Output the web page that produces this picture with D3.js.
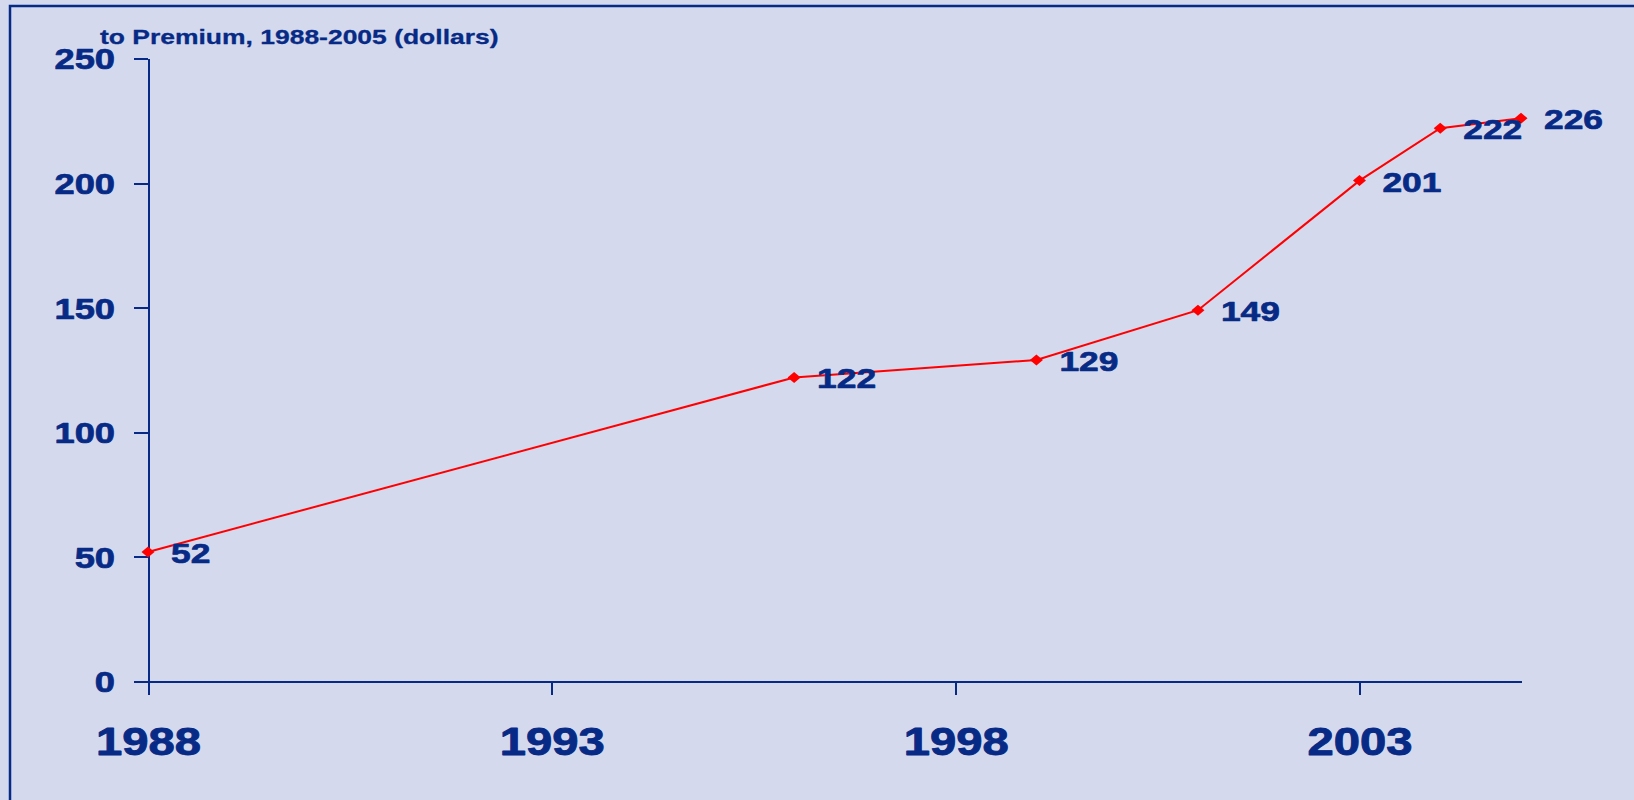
<!DOCTYPE html>
<html>
<head>
<meta charset="utf-8">
<script src="https://cdn.jsdelivr.net/npm/d3@7"></script>
<style>
  html, body { margin: 0; padding: 0; background: #d4d9ed; }
  svg { display: block; }
  text { font-family: "Liberation Sans", Arial, sans-serif; font-weight: bold; fill: #062a85; stroke: #062a85; stroke-linejoin: round; }
</style>
</head>
<body>
<script>
// ---- data ----
const titleText = "to Premium, 1988-2005 (dollars)";
const years = [1988, 1996, 1999, 2001, 2003, 2004, 2005];
const values = [52, 122, 129, 149, 201, 222, 226];
const xTickValues = [1988, 1993, 1998, 2003];
const yTickValues = [0, 50, 100, 150, 200, 250];

const W = 1634, H = 800;
const navy = "#062a85";

const svg = d3.select("body").append("svg").attr("width", W).attr("height", H);
svg.append("rect").attr("width", W).attr("height", H).attr("fill", "#d4d9ed");
// frame (extends past right / bottom edge)
svg.append("rect").attr("x", 10).attr("y", 6).attr("width", W + 20).attr("height", H + 20)
  .attr("fill", "none").attr("stroke", navy).attr("stroke-width", 2.5);

const x = d3.scaleLinear().domain([1988, 2005]).range([148, 1521]);
const y = d3.scaleLinear().domain([0, 250]).range([681.5, 58.5]);

function stretch(sel, k) {
  sel.each(function () {
    const w = this.getComputedTextLength();
    d3.select(this).attr("textLength", w * k).attr("lengthAdjust", "spacingAndGlyphs");
  });
}

// title
svg.append("text").attr("x", 100).attr("y", 44).attr("font-size", 21)
  .attr("stroke-width", 0.3).text(titleText)
  .call(stretch, 1.26);

// y axis
const gy = svg.append("g").attr("transform", `translate(${x(1988)},0)`)
  .call(d3.axisLeft(y).tickValues(yTickValues).tickSize(14).tickSizeOuter(0).tickFormat(d3.format("d")));
gy.select(".domain").attr("stroke", navy).attr("stroke-width", 2);
gy.selectAll(".tick line").attr("stroke", navy).attr("stroke-width", 2);
gy.selectAll(".tick text").attr("x", -33).attr("dy", "0.36em")
  .attr("font-size", 29).attr("fill", navy).attr("stroke", navy).attr("stroke-width", 0.7)
  .attr("font-family", null)
  .call(stretch, 1.25);

// x axis
const gx = svg.append("g").attr("transform", `translate(0,${y(0)})`)
  .call(d3.axisBottom(x).tickValues(xTickValues).tickSize(13).tickSizeOuter(0).tickFormat(d3.format("d")));
gx.select(".domain").attr("stroke", navy).attr("stroke-width", 2);
gx.selectAll(".tick line").attr("stroke", navy).attr("stroke-width", 2);
gx.selectAll(".tick text").attr("y", 73.5).attr("dy", 0)
  .attr("font-size", 39).attr("fill", navy).attr("stroke", navy).attr("stroke-width", 0.9)
  .attr("font-family", null)
  .call(stretch, 1.21);
svg.selectAll(".domain, .tick line").attr("shape-rendering", "crispEdges");

// line
const pts = years.map((yr, i) => ({ yr, v: values[i] }));
svg.append("path").datum(pts)
  .attr("fill", "none").attr("stroke", "#ff0000").attr("stroke-width", 2)
  .attr("d", d3.line().x(d => x(d.yr)).y(d => y(d.v)));

// markers
svg.selectAll("path.mk").data(pts).join("path").attr("class", "mk")
  .attr("d", "M0,-5.5L6.5,0L0,5.5L-6.5,0Z")
  .attr("fill", "#ff0000")
  .attr("transform", d => `translate(${x(d.yr)},${y(d.v)})`);

// data labels
svg.selectAll("text.lbl").data(pts).join("text").attr("class", "lbl")
  .attr("x", d => x(d.yr) + 23).attr("y", d => y(d.v) + 11)
  .attr("font-size", 28.5).attr("stroke-width", 0.7).text(d => d.v)
  .call(stretch, 1.24);
</script>
</body>
</html>
